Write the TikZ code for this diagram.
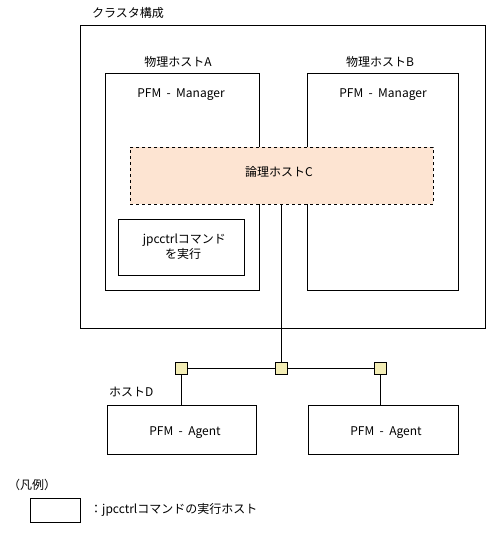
\documentclass[tikz,border=0pt]{standalone}
\usepackage{fontspec}
\setmainfont{Noto Sans CJK JP}
\definecolor{peach}{HTML}{FDE4D2}
\definecolor{sq}{HTML}{F3EDB5}
\begin{document}
\begin{tikzpicture}[x=1pt,y=-1pt,
  box/.style={draw,line width=0.8pt,fill=white},
  lbl/.style={font=\fontsize{12}{15}\selectfont,inner sep=0pt},
  port/.style={draw,line width=0.8pt,fill=sq,minimum size=12pt,inner sep=0pt},
  wire/.style={line width=0.8pt}]
\useasboundingbox (0,0) rectangle (488,535);
% cluster
\node[lbl,anchor=west] (tcl) at (92,13) {クラスタ構成};
\draw[box] (80,25) rectangle (485,328);
% host A
\node[box,minimum width=154pt,minimum height=217pt,anchor=north west] (hA) at (105,73) {};
\node[lbl] (lA) at (178,62) {物理ホストA};
\node[lbl] (mA) at (181,95) {PFM\ \ -\ \ Manager};
% host B
\node[box,minimum width=151pt,minimum height=217pt,anchor=north west] (hB) at (307,73) {};
\node[lbl] (lB) at (380,62) {物理ホストB};
\node[lbl] (mB) at (383,95) {PFM\ \ -\ \ Manager};
% logical host C
\node[draw,dashed,line width=0.8pt,fill=peach,minimum width=303pt,minimum height=57pt,anchor=north west] (hC) at (130,147) {};
\node[lbl] (lC) at (279,172) {論理ホストC};
% jpcctrl box
\node[box,minimum width=126pt,minimum height=56pt,anchor=north west] (jp) at (118,219) {};
\node[lbl,align=center] (tjp) at (183,247) {\ jpcctrlコマンド\\を実行};
% ports
\node[port] (p1) at (181,368.5) {};
\node[port] (p2) at (281.5,368.5) {};
\node[port] (p3) at (380.5,368.5) {};
\coordinate (cb) at (281.5,204);
\draw[wire] (cb) -- (p2.north);
\draw[wire] (p1.east) -- (p2.west);
\draw[wire] (p2.east) -- (p3.west);
% agents
\node[box,minimum width=149pt,minimum height=49pt,anchor=north west] (hD) at (107,405) {};
\node[lbl,anchor=west] (lD) at (109,392) {ホストD};
\node[lbl] (aD) at (185,433) {PFM\ \ -\ \ Agent};
\node[box,minimum width=150pt,minimum height=49pt,anchor=north west] (hE) at (308,405) {};
\node[lbl] (aE) at (386,433) {PFM\ \ -\ \ Agent};
\draw[wire] (p1.south) -- (hD.north -| p1.south);
\draw[wire] (p3.south) -- (hE.north -| p3.south);
% legend
\node[lbl,anchor=west] (leg) at (8,485) {（凡例）};
\node[box,minimum width=50pt,minimum height=24pt,anchor=north west] (lgbox) at (30,498) {};
\node[lbl,anchor=west] (lgt) at (90,510) {：jpcctrlコマンドの実行ホスト};
\end{tikzpicture}
\end{document}
